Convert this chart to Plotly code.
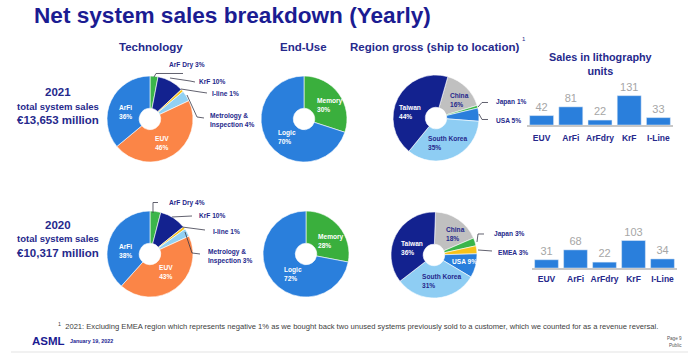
import plotly.graph_objects as go

W, H = 688, 357

# ---------------- data ----------------
years = ["2021", "2020"]
total_sales = ["€13,653 million", "€10,317 million"]

tech_labels = ["ArF Dry", "KrF", "I-line", "Metrology &<br>Inspection", "EUV", "ArFi"]
tech_2021 = [3, 10, 1, 4, 46, 36]
tech_2020 = [4, 10, 1, 3, 43, 38]

enduse_labels = ["Memory", "Logic"]
enduse_2021 = [30, 70]
enduse_2020 = [28, 72]

region_labels_2021 = ["China", "Japan", "USA", "South Korea", "Taiwan"]
region_2021 = [16, 1, 5, 35, 44]
region_labels_2020 = ["China", "Japan", "EMEA", "USA", "South Korea", "Taiwan"]
region_2020 = [18, 3, 3, 9, 31, 36]

litho_categories = ["EUV", "ArFi", "ArFdry", "KrF", "I-Line"]
litho_2021 = [42, 81, 22, 131, 33]
litho_2020 = [31, 68, 22, 103, 34]

# ---------------- styles ----------------
NAVY = "#1b1c92"
TXT = "#26298c"
FONT = "Liberation Sans, Arial, sans-serif"
COLORS = {
    "ArF Dry": "#3bb54a", "KrF": "#13228f", "I-line": "#f7c21a",
    "Metrology &<br>Inspection": "#91d0f2", "EUV": "#fb8547", "ArFi": "#2a7fdc",
    "Memory": "#3aaf3d", "Logic": "#2a7fdc",
    "China": "#c0c0c0", "Japan": "#3bb54a", "USA": "#2a7fdc", "EMEA": "#f7c21a",
    "South Korea": "#8ecdf3", "Taiwan": "#13228f",
}
LBL = 6.6  # pie label font size


def px(x, y):
    return x / W, 1 - y / H


def dom(cx, cy, r):
    return dict(x=[(cx - r) / W, (cx + r) / W], y=[1 - (cy + r) / H, 1 - (cy - r) / H])


fig = go.Figure()


def add_pie(labels, values, cx, cy, rot):
    fig.add_trace(go.Pie(
        labels=labels, values=values, sort=False, direction="clockwise",
        rotation=rot, hole=0.25, textinfo="none", hoverinfo="label+value",
        marker=dict(colors=[COLORS[l] for l in labels], line=dict(color="white", width=0.6)),
        domain=dom(cx, cy, 43), showlegend=False,
    ))


add_pie(tech_labels, tech_2021, 150, 119, 0)
add_pie(enduse_labels, enduse_2021, 304, 119, 0)
add_pie(region_labels_2021, region_2021, 436, 118, 16)
add_pie(tech_labels, tech_2020, 150, 254, 0)
add_pie(enduse_labels, enduse_2020, 306, 254, 0)
add_pie(region_labels_2020, region_2020, 434, 255, 2)

# bars
fig.add_trace(go.Bar(x=litho_categories, y=litho_2021, text=litho_2021, textposition="outside",
                     textfont=dict(color="#a6a6a6", size=11, family=FONT), marker_color="#2a7fdc",
                     cliponaxis=False, showlegend=False, xaxis="x", yaxis="y"))
fig.add_trace(go.Bar(x=litho_categories, y=litho_2020, text=litho_2020, textposition="outside",
                     textfont=dict(color="#a6a6a6", size=11, family=FONT), marker_color="#2a7fdc",
                     cliponaxis=False, showlegend=False, xaxis="x2", yaxis="y2"))

axis_common = dict(showline=True, linecolor="#c8c8c8", linewidth=1.5, showgrid=False, ticks="",
                   tickfont=dict(color=TXT, size=8.5, family=FONT, weight="bold"), fixedrange=True)
fig.update_layout(
    xaxis=dict(domain=[527 / W, 673 / W], anchor="y", ticklabelstandoff=4, **axis_common),
    yaxis=dict(domain=[1 - 125 / H, 1 - 85 / H], range=[0, 178.6], visible=False, anchor="x"),
    xaxis2=dict(domain=[532 / W, 677 / W], anchor="y2", ticklabelstandoff=2, **axis_common),
    yaxis2=dict(domain=[1 - 268 / H, 1 - 228 / H], range=[0, 150], visible=False, anchor="x2"),
    bargap=0.18,
)

ann = []


def text(x, y, t, size=LBL, color=TXT, xanchor="left", bold=True, align=None):
    ax, ay = px(x, y)
    ann.append(dict(x=ax, y=ay, xref="paper", yref="paper", text=(f"<b>{t}</b>" if bold else t),
                    showarrow=False, xanchor=xanchor, yanchor="middle",
                    align=align or ("left" if xanchor == "left" else "center"),
                    font=dict(size=size, color=color, family=FONT)))


def inside(lbl, v):
    return f"{lbl}<br>{v}%"


def outside(lbl, v):
    return f"{lbl} {v}%"


# titles
text(32, 16, "Net system sales breakdown (Yearly)", size=22.6, color=NAVY)
text(151, 47, "Technology", size=11.5, color=TXT, xanchor="center")
text(303, 47, "End-Use", size=11.5, color=TXT, xanchor="center")
text(434.5, 47, "Region gross (ship to location)", size=11.5, color=TXT, xanchor="center")
text(520, 39, "1", size=6, color=TXT, bold=False)
text(600, 64, "Sales in lithography<br>units", size=10.8, color=TXT, xanchor="center")

# left year text
for yr, tot, y0 in zip(years, total_sales, [92, 225]):
    text(58, y0, yr, size=11.5, color=TXT, xanchor="center")
    text(58, y0 + 14, "total system sales", size=9.5, color=TXT, xanchor="center")
    text(58, y0 + 28, tot, size=11.5, color=TXT, xanchor="center")

# Technology 2021 labels
t = tech_labels; v = tech_2021
text(125, 111.5, inside(t[5], v[5]), color="white", xanchor="center")
text(162, 142.5, inside(t[4], v[4]), color="white", xanchor="center")
text(167, 65, outside(t[0], v[0]))
text(197, 82, outside(t[1], v[1]))
text(210, 94, outside(t[2], v[2]))
text(208, 120, outside(t[3], v[3]))
# Technology 2020 labels
v = tech_2020
text(125, 251, inside(t[5], v[5]), color="white", xanchor="center")
text(166, 272, inside(t[4], v[4]), color="white", xanchor="center")
text(167, 202.5, outside(t[0], v[0]))
text(197, 216, outside(t[1], v[1]))
text(211, 231, outside(t[2], v[2]))
text(206, 256, outside(t[3], v[3]))

# End-use
text(315, 105, inside(enduse_labels[0], enduse_2021[0]), color="white")
text(276, 136.5, inside(enduse_labels[1], enduse_2021[1]), color="white")
text(316, 241, inside(enduse_labels[0], enduse_2020[0]), color="white")
text(282, 274, inside(enduse_labels[1], enduse_2020[1]), color="white")

# Region 2021
r = region_labels_2021; v = region_2021
text(448, 100, inside(r[0], v[0]))
text(494, 102.5, outside(r[1], v[1]))
text(494, 120, outside(r[2], v[2]))
text(426, 142.5, inside(r[3], v[3]))
text(397, 111.5, inside(r[4], v[4]), color="white")
# Region 2020
r = region_labels_2020; v = region_2020
text(444, 233.5, inside(r[0], v[0]))
text(492, 234, outside(r[1], v[1]))
text(496, 252, outside(r[2], v[2]))
text(450, 261, outside(r[3], v[3]), color="white")
text(420, 281, inside(r[4], v[4]))
text(399, 247.5, inside(r[5], v[5]), color="white")

# footer
text(56, 326, "<sup>1</sup>  2021: Excluding EMEA region which represents negative 1% as we bought back two unused "
     "systems previously sold to a customer, which we counted for as a revenue reversal.",
     size=7.6, color="#404040", bold=False)
text(30, 341, "ASML", size=11.5, color=NAVY)
text(68, 341, "January 19, 2022", size=5.4, color=NAVY)
text(684, 338, "Page 9", size=4.6, color="#555555", xanchor="right", bold=False)
text(684, 345, "Public", size=4.6, color="#555555", xanchor="right", bold=False)

# leader lines
leaders = [
    [(154, 77), (156, 73.5), (183, 73.5)],
    [(170, 78), (190, 81), (195, 82)],
    [(181, 89), (200, 92), (207, 93)],
    [(187, 95), (197, 117), (204, 118)],
    [(153, 213), (153, 202.5), (158, 202.5)],
    [(172, 217), (192, 216)],
    [(182, 227), (205, 230)],
    [(185, 232), (192, 253), (200, 254)],
    [(478, 107), (482, 102.5), (488, 102.5)],
    [(479, 114), (482, 119.5), (488, 119.5)],
    [(477, 242), (478, 234), (484, 234)],
    [(478, 250), (492, 251)],
]
shapes = []
for pts in leaders:
    path = " ".join(("M" if i == 0 else "L") + " {:.5f},{:.5f}".format(*px(x, y)) for i, (x, y) in enumerate(pts))
    shapes.append(dict(type="path", xref="paper", yref="paper", path=path,
                       line=dict(color="#3a3a4a", width=0.8)))
x0, y0 = px(11, 352)
x1, _ = px(688, 352)
shapes.append(dict(type="line", xref="paper", yref="paper", x0=x0, x1=x1, y0=y0, y1=y0,
                   line=dict(color="#e3e3e3", width=1)))

fig.update_layout(
    width=W, height=H, margin=dict(l=0, r=0, t=0, b=0),
    paper_bgcolor="white", plot_bgcolor="white",
    annotations=ann, shapes=shapes,
    font=dict(family=FONT),
)

fig.write_html("out.html", config={"displayModeBar": False},
               post_script="document.body.style.margin='0px';document.body.style.overflow='hidden';")
